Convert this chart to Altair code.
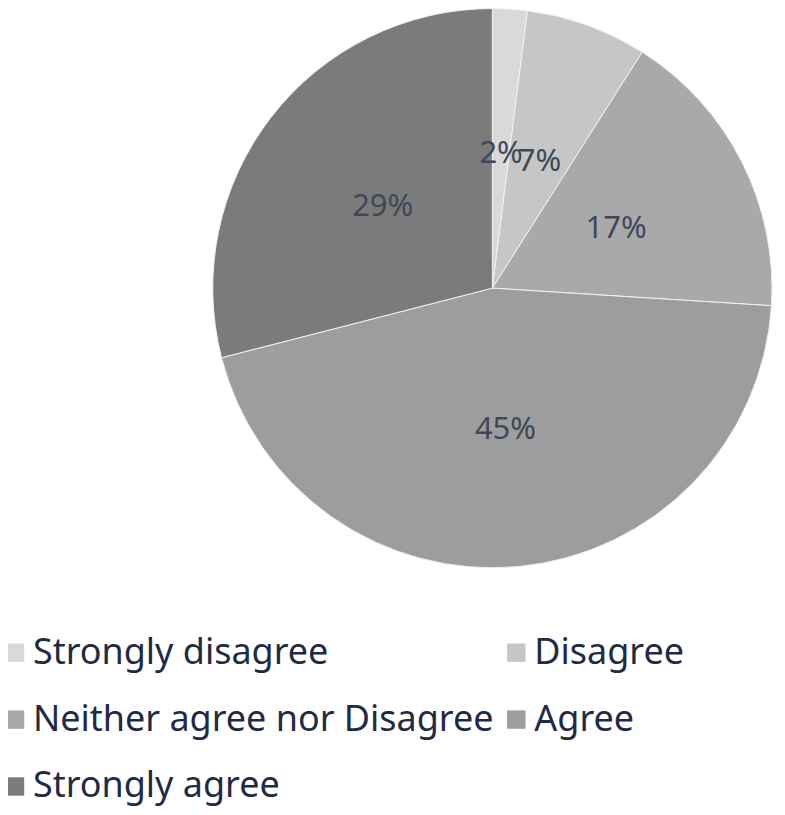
import altair as alt
import pandas as pd

categories = ["Strongly disagree", "Disagree", "Neither agree nor Disagree", "Agree", "Strongly agree"]
values = [2, 7, 17, 45, 29]
labels = ["2%", "7%", "17%", "45%", "29%"]
colors = ["#d9d9d9", "#c6c6c6", "#a9a9a9", "#9d9d9d", "#7b7b7b"]

df = pd.DataFrame({"cat": categories, "val": values, "label": labels, "idx": list(range(len(categories)))})

FONT = "Noto Sans"

base = alt.Chart(df).encode(
    theta=alt.Theta("val:Q", stack=True),
    order=alt.Order("idx:Q"),
    x=alt.value(485),
    y=alt.value(280),
)

arcs = base.mark_arc(outerRadius=280, stroke="#f2f2f2", strokeWidth=1).encode(
    color=alt.Color(
        "cat:N",
        scale=alt.Scale(domain=categories, range=colors),
        legend=alt.Legend(
            title=None,
            orient="none",
            direction="horizontal",
            legendX=-11,
            legendY=627,
            columns=2,
            symbolType="square",
            symbolSize=340,
            symbolStrokeWidth=0,
            labelFontSize=36,
            labelFont=FONT,
            labelColor="#1f2a44",
            labelOffset=0,
            labelLimit=600,
            rowPadding=31,
            columnPadding=4,
            padding=0,
        ),
    )
)

text = base.mark_text(radius=139, fontSize=31, font=FONT, color="#3f4859", dy=4).encode(
    text="label:N",
    detail="cat:N",
)

chart = (arcs + text).properties(
    width=770, height=800, padding=0, autosize=alt.AutoSizeParams(type="none")
).configure_view(stroke=None)

chart.save("out.html", embed_options={"renderer": "svg", "actions": False})
